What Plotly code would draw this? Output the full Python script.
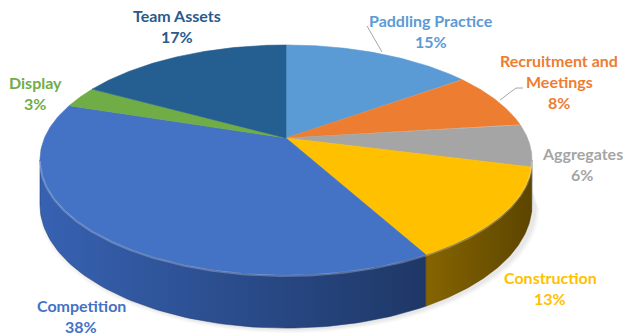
import numpy as np
import plotly.graph_objects as go

# Budget shares, in pie order (clockwise from 12 o'clock)
labels = ["Paddling Practice", "Recruitment and Meetings", "Aggregates",
          "Construction", "Competition", "Display", "Team Assets"]
shares = [15, 8, 6, 13, 38, 3, 17]

top_colors = ["#5B9BD5", "#ED7D31", "#A5A5A5", "#FFC000", "#4472C4", "#70AD47", "#255E91"]
side_colors = [("#3E78B0", "#2C5C8C"), ("#B85A1E", "#8C4212"), ("#8A8A8A", "#5E5E5E"),
               ("#866500", "#5C4500"), ("#3762B2", "#1E3766"), ("#4F7F30", "#3A5F22"),
               ("#1B4670", "#123250")]
text_colors = ["#5B9BD5", "#ED7D31", "#A5A5A5", "#FFC000", "#4472C4", "#70AD47", "#2A5A8C"]

# label line breaks and anchor points (centre of the text block, pixels)
label_lines = [["Paddling Practice"], ["Recruitment and", "Meetings"], ["Aggregates"],
               ["Construction"], ["Competition"], ["Display"], ["Team Assets"]]
label_pos = [(431, 20), (559, 60), (582, 153), (550, 277), (81, 305), (35, 82), (177, 15)]

# perspective disc geometry
CX, CY = 286.0, 138.0
RX, RY = 241.5, 110.8
K = 0.191
DEPTH = 43.0
W, H = 623, 335


def project(theta, drop=0.0):
    X = np.cos(theta)
    Y = np.sin(theta)
    w = 1.0 + K * Y
    return CX + RX * X / w, CY - RY * Y / w + drop / w


cum = np.concatenate([[0], np.cumsum(shares)]) / sum(shares)
starts = np.pi / 2 - 2 * np.pi * cum[:-1]
ends = np.pi / 2 - 2 * np.pi * cum[1:]

# visible part of the rim lies between the two silhouette tangents
vis_hi = -np.arcsin(K)
vis_lo = -np.pi + np.arcsin(K)

fig = go.Figure()

# soft shadow under the disc
for alpha, grow in [(0.025, 9), (0.03, 6), (0.035, 3)]:
    t = np.linspace(vis_hi, vis_lo, 120)
    xs, ys = project(t, DEPTH)
    fig.add_trace(go.Scatter(
        x=np.concatenate([xs + grow * np.cos(t) * 0.5 + 3, xs[::-1]]),
        y=np.concatenate([ys + grow * 0.45 + 1, ys[::-1] - 15]),
        mode="lines", line=dict(width=0), fill="toself",
        fillcolor=f"rgba(0,0,0,{alpha})", hoverinfo="skip", showlegend=False))

# side walls
for i in range(len(shares)):
    hi = min(starts[i], vis_hi)
    lo = max(ends[i], vis_lo)
    if hi <= lo:
        continue
    t = np.linspace(hi, lo, 80)
    xt, yt = project(t)
    xb, yb = project(t[::-1], DEPTH)
    c1, c2 = side_colors[i]
    fig.add_trace(go.Scatter(
        x=np.concatenate([xt, xb, xt[:1]]), y=np.concatenate([yt, yb, yt[:1]]),
        mode="lines", line=dict(width=0.5, color=c2), fill="toself",
        fillgradient=dict(type="horizontal", colorscale=[[0, c1], [1, c2]]),
        hoverinfo="skip", showlegend=False))

# top faces
for i in range(len(shares)):
    t = np.linspace(starts[i], ends[i], 120)
    xs, ys = project(t)
    fig.add_trace(go.Scatter(
        x=np.concatenate([[CX], xs, [CX]]), y=np.concatenate([[CY], ys, [CY]]),
        mode="lines", line=dict(width=0.6, color=top_colors[i]), fill="toself",
        fillcolor=top_colors[i], name=labels[i], hoverinfo="name", showlegend=False))

# bevel highlight along the front rim
t = np.linspace(vis_hi, vis_lo, 200)
xs, ys = project(t)
fig.add_trace(go.Scatter(x=xs, y=ys + 1, mode="lines",
                         line=dict(width=2, color="rgba(255,255,255,0.25)"),
                         hoverinfo="skip", showlegend=False))

# data labels
LINE_GAP = 21
for i in range(len(shares)):
    lines = label_lines[i] + [f"{shares[i]}%"]
    x0, y0 = label_pos[i]
    for j, txt in enumerate(lines):
        fig.add_annotation(x=x0, y=y0 + j * LINE_GAP, text=txt, showarrow=False,
                           xanchor="center", yanchor="middle",
                           font=dict(family="Lato", size=16, weight="bold",
                                     color=text_colors[i]))

# leader lines
leader = "#A6A6A6"
fig.add_shape(type="line", x0=382, y0=52, x1=367, y1=26, line=dict(color=leader, width=1))
fig.add_shape(type="path", path="M 500 100 L 516 88 L 523 88", line=dict(color=leader, width=1))

fig.update_layout(
    width=W, height=H, margin=dict(l=0, r=0, t=0, b=0),
    paper_bgcolor="white", plot_bgcolor="white",
    xaxis=dict(range=[0, W], visible=False, fixedrange=True),
    yaxis=dict(range=[H, 0], visible=False, fixedrange=True),
)

fig.write_html("out.html")
